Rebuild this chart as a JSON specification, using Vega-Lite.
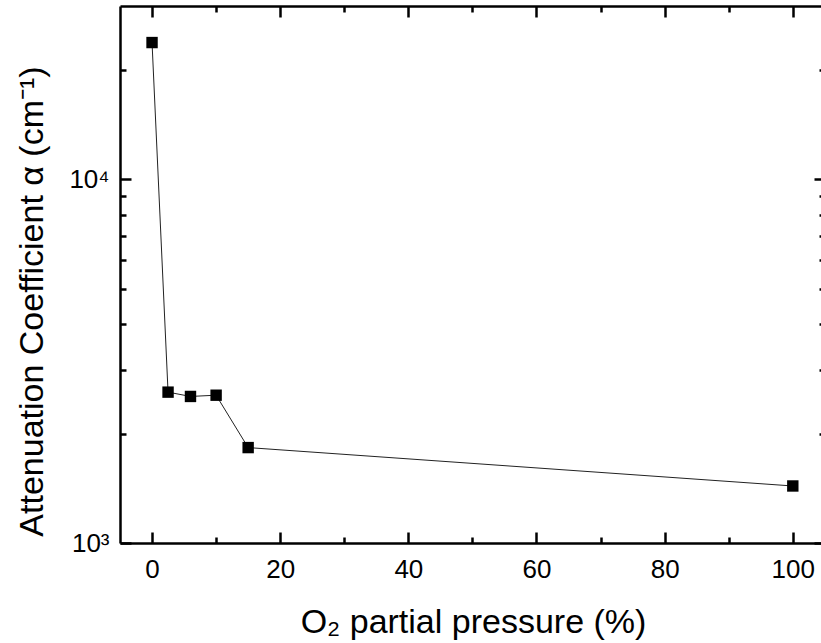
{
  "$schema": "https://vega.github.io/schema/vega-lite/v6.json",
  "width": 701,
  "height": 537,
  "autosize": "none",
  "padding": {"left": 120, "top": 6, "right": 0, "bottom": 100},
  "background": "white",
  "data": {
    "values": [
      {"o2": 0, "alpha": 23800},
      {"o2": 2.5, "alpha": 2600},
      {"o2": 6, "alpha": 2530},
      {"o2": 10, "alpha": 2550},
      {"o2": 15, "alpha": 1830},
      {"o2": 100, "alpha": 1435}
    ]
  },
  "resolve": {"axis": {"x": "independent", "y": "independent"}},
  "layer": [
    {
      "mark": {"type": "line", "color": "#222", "strokeWidth": 1},
      "encoding": {
        "x": {
          "field": "o2", "type": "quantitative",
          "scale": {"domain": [-5, 104.4], "nice": false, "zero": false},
          "axis": {
            "orient": "bottom", "values": [0, 20, 40, 60, 80, 100],
            "ticks": false, "tickSize": 0, "labelPadding": 13, "labelFlush": false,
            "title": "O₂ partial pressure (%)",
            "titleX": 353, "titleY": 89, "titleBaseline": "alphabetic", "titleAnchor": "middle"
          }
        },
        "y": {
          "field": "alpha", "type": "quantitative",
          "scale": {"type": "log", "domain": [1000, 30000], "nice": false},
          "axis": {
            "orient": "left", "values": [1000, 10000],
            "labelExpr": "datum.value == 1000 ? '10³' : '10⁴'",
            "ticks": false, "tickSize": 0, "labelPadding": 11, "labelFlush": false,
            "title": "Attenuation Coefficient α (cm⁻¹)",
            "titleX": -78, "titleY": 295, "titleBaseline": "alphabetic", "titleAngle": -90, "titleAnchor": "middle"
          }
        }
      }
    },
    {
      "mark": {"type": "point", "shape": "square", "filled": true, "color": "black", "size": 130, "opacity": 1},
      "encoding": {
        "x": {
          "field": "o2", "type": "quantitative",
          "scale": {"domain": [-5, 104.4], "nice": false, "zero": false},
          "axis": {"orient": "top", "values": [0, 20, 40, 60, 80, 100], "ticks": false, "tickSize": 0, "labels": false, "title": null, "domain": true}
        },
        "y": {
          "field": "alpha", "type": "quantitative",
          "scale": {"type": "log", "domain": [1000, 30000], "nice": false},
          "axis": {"orient": "right", "offset": -701, "values": [1000, 10000], "ticks": true, "tickSize": 11, "tickColor": "black", "tickWidth": 2.5, "labels": false, "title": null, "domain": false}
        }
      }
    },
    {
      "mark": {"type": "point", "opacity": 0},
      "encoding": {
        "x": {
          "field": "o2", "type": "quantitative",
          "scale": {"domain": [-5, 104.4], "nice": false, "zero": false},
          "axis": {"orient": "top", "offset": -537, "values": [0, 20, 40, 60, 80, 100], "ticks": true, "tickSize": 11, "tickColor": "black", "tickWidth": 2.5, "labels": false, "title": null, "domain": false}
        },
        "y": {
          "field": "alpha", "type": "quantitative",
          "scale": {"type": "log", "domain": [1000, 30000], "nice": false},
          "axis": {"orient": "right", "offset": -701, "values": [2000, 3000, 4000, 5000, 6000, 7000, 8000, 9000, 20000], "ticks": true, "tickSize": 6, "tickColor": "black", "tickWidth": 2.5, "labels": false, "title": null, "domain": false}
        }
      }
    },
    {
      "mark": {"type": "point", "opacity": 0},
      "encoding": {
        "x": {
          "field": "o2", "type": "quantitative",
          "scale": {"domain": [-5, 104.4], "nice": false, "zero": false},
          "axis": {"orient": "top", "offset": -537, "values": [10, 30, 50, 70, 90], "ticks": true, "tickSize": 6, "tickColor": "black", "tickWidth": 2.5, "labels": false, "title": null, "domain": false}
        },
        "y": {
          "field": "alpha", "type": "quantitative",
          "scale": {"type": "log", "domain": [1000, 30000], "nice": false},
          "axis": {"orient": "left", "offset": -705, "values": [1000, 10000], "ticks": true, "tickSize": 11, "tickColor": "black", "tickWidth": 2.5, "labels": false, "title": null, "domain": false}
        }
      }
    },
    {
      "mark": {"type": "point", "opacity": 0},
      "encoding": {
        "x": {
          "field": "o2", "type": "quantitative",
          "scale": {"domain": [-5, 104.4], "nice": false, "zero": false},
          "axis": {"orient": "bottom", "offset": -537, "values": [0, 20, 40, 60, 80, 100], "ticks": true, "tickSize": 11, "tickColor": "black", "tickWidth": 2.5, "labels": false, "title": null, "domain": false}
        },
        "y": {
          "field": "alpha", "type": "quantitative",
          "scale": {"type": "log", "domain": [1000, 30000], "nice": false},
          "axis": {"orient": "left", "offset": -705, "values": [2000, 3000, 4000, 5000, 6000, 7000, 8000, 9000, 20000], "ticks": true, "tickSize": 6, "tickColor": "black", "tickWidth": 2.5, "labels": false, "title": null, "domain": false}
        }
      }
    },
    {
      "mark": {"type": "point", "opacity": 0},
      "encoding": {
        "x": {
          "field": "o2", "type": "quantitative",
          "scale": {"domain": [-5, 104.4], "nice": false, "zero": false},
          "axis": {"orient": "bottom", "offset": -537, "values": [10, 30, 50, 70, 90], "ticks": true, "tickSize": 6, "tickColor": "black", "tickWidth": 2.5, "labels": false, "title": null, "domain": false}
        },
        "y": {
          "field": "alpha", "type": "quantitative",
          "scale": {"type": "log", "domain": [1000, 30000], "nice": false},
          "axis": null
        }
      }
    }
  ],
  "config": {
    "view": {"stroke": null},
    "axis": {
      "grid": false,
      "domainColor": "black", "domainWidth": 2.5,
      "tickColor": "black", "tickWidth": 2.5,
      "labelFont": "Liberation Sans", "labelFontSize": 26, "labelColor": "black",
      "titleFont": "Liberation Sans", "titleFontSize": 34, "titleFontWeight": "normal", "titleColor": "black"
    }
  }
}
